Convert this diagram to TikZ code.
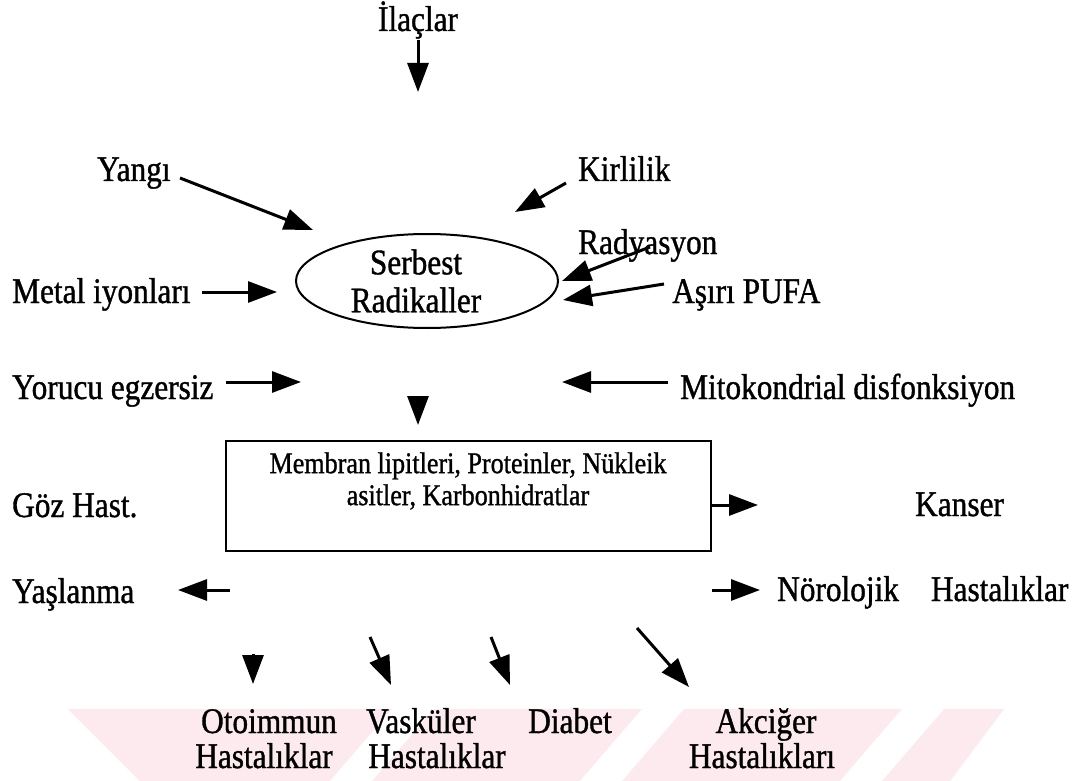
\documentclass[tikz,border=0pt]{standalone}
\usepackage{fontspec}
\setmainfont[FakeStretch=0.87,FakeBold=1]{Liberation Serif}
\usetikzlibrary{arrows.meta,shapes.geometric}
\definecolor{wm}{RGB}{253,234,238}
\begin{document}
\begin{tikzpicture}[x=1pt,y=-1pt,
  lbl/.style={font=\fontsize{36}{40}\selectfont, inner sep=0pt, anchor=base west},
  clbl/.style={font=\fontsize{36}{40}\selectfont, inner sep=0pt, anchor=base},
  arr/.style={line width=3pt, -{Triangle[length=29pt,width=21pt]}},
  shp/.style={draw, line width=2pt, inner sep=0pt}
]
\useasboundingbox (0,0) rectangle (1077,781);
\fill[white] (0,0) rectangle (1077,781);
% watermark
\fill[wm] (68,709) -- (1004,709) -- (950,781) -- (140,781) -- cycle;
\fill[white] (330,781) -- (372,781) -- (434,709) -- (392,709) -- cycle;
\fill[white] (580,781) -- (622,781) -- (684,709) -- (642,709) -- cycle;
\fill[white] (840,781) -- (882,781) -- (944,709) -- (902,709) -- cycle;

% central nodes
\node[shp, ellipse, minimum width=262, minimum height=94] (sr) at (427,281) {};
\node[font=\fontsize{36}{38}\selectfont, align=center, inner sep=0pt] (srt) at (416,281) {Serbest\\Radikaller};
\node[shp, minimum width=485, minimum height=110] (box) at (468.5,496) {};
\node[font=\fontsize{30}{32}\selectfont, align=center, inner sep=0pt] (boxt) at (468,481) {Membran lipitleri, Proteinler, Nükleik\\asitler, Karbonhidratlar};

% labels
\node[clbl] (ilac) at (418,31) {İlaçlar};
\node[lbl] (yangi) at (97,181) {Yangı};
\node[lbl] (kirl) at (578,181) {Kirlilik};
\node[lbl] (rady) at (578,254) {Radyasyon};
\node[lbl] (metal) at (12,303) {Metal iyonları};
\node[lbl] (pufa) at (672,303) {Aşırı PUFA};
\node[lbl] (yorucu) at (12,399) {Yorucu egzersiz};
\node[lbl] (mito) at (680,399) {Mitokondrial disfonksiyon};
\node[lbl] (goz) at (12,517) {Göz Hast.};
\node[lbl] (kanser) at (915,516) {Kanser};
\node[lbl] (yasl) at (12,603) {Yaşlanma};
\node[lbl] (noro) at (777,601) {Nörolojik\hspace{32pt}Hastalıklar};
\node[clbl] (oto1) at (269,733) {Otoimmun};
\node[clbl] (oto2) at (264,768) {Hastalıklar};
\node[clbl] (vas1) at (421,733) {Vasküler};
\node[clbl] (vas2) at (437,768) {Hastalıklar};
\node[clbl] (dia) at (570,733) {Diabet};
\node[clbl] (akc1) at (766,733) {Akciğer};
\node[clbl] (akc2) at (762,768) {Hastalıkları};

% arrow end points
\coordinate (a1s) at (418,40);  \coordinate (a1e) at (418,92);
\coordinate (a2s) at (180,178); \coordinate (a2e) at (313,230);
\coordinate (a3s) at (566,183); \coordinate (a3e) at (515,212);
\coordinate (a4s) at (650,247); \coordinate (a4e) at (562,281);
\coordinate (a5s) at (664,284); \coordinate (a5e) at (563,300);
\coordinate (a6s) at (202,292); \coordinate (a6e) at (277,292);
\coordinate (a7s) at (226,382); \coordinate (a7e) at (301,382);
\coordinate (a8s) at (668,382); \coordinate (a8e) at (562,382);
\coordinate (a9s) at (418,396); \coordinate (a9e) at (418,425);
\coordinate (b1s) at (711,505); \coordinate (b1e) at (758,505);
\coordinate (b2s) at (230,590); \coordinate (b2e) at (178,590);
\coordinate (b3s) at (712,590); \coordinate (b3e) at (760,590);
\coordinate (c1s) at (253,654); \coordinate (c1e) at (253,684);
\coordinate (c2s) at (370,637); \coordinate (c2e) at (391,685);
\coordinate (c3s) at (491,637); \coordinate (c3e) at (510,685);
\coordinate (c4s) at (637,628); \coordinate (c4e) at (689,687);

\foreach \p in {a1,a2,a3,a4,a5,a6,a7,a8,a9,b1,b2,b3,c1,c2,c3,c4}
  \draw[arr] (\p s) -- (\p e);
\end{tikzpicture}
\end{document}
